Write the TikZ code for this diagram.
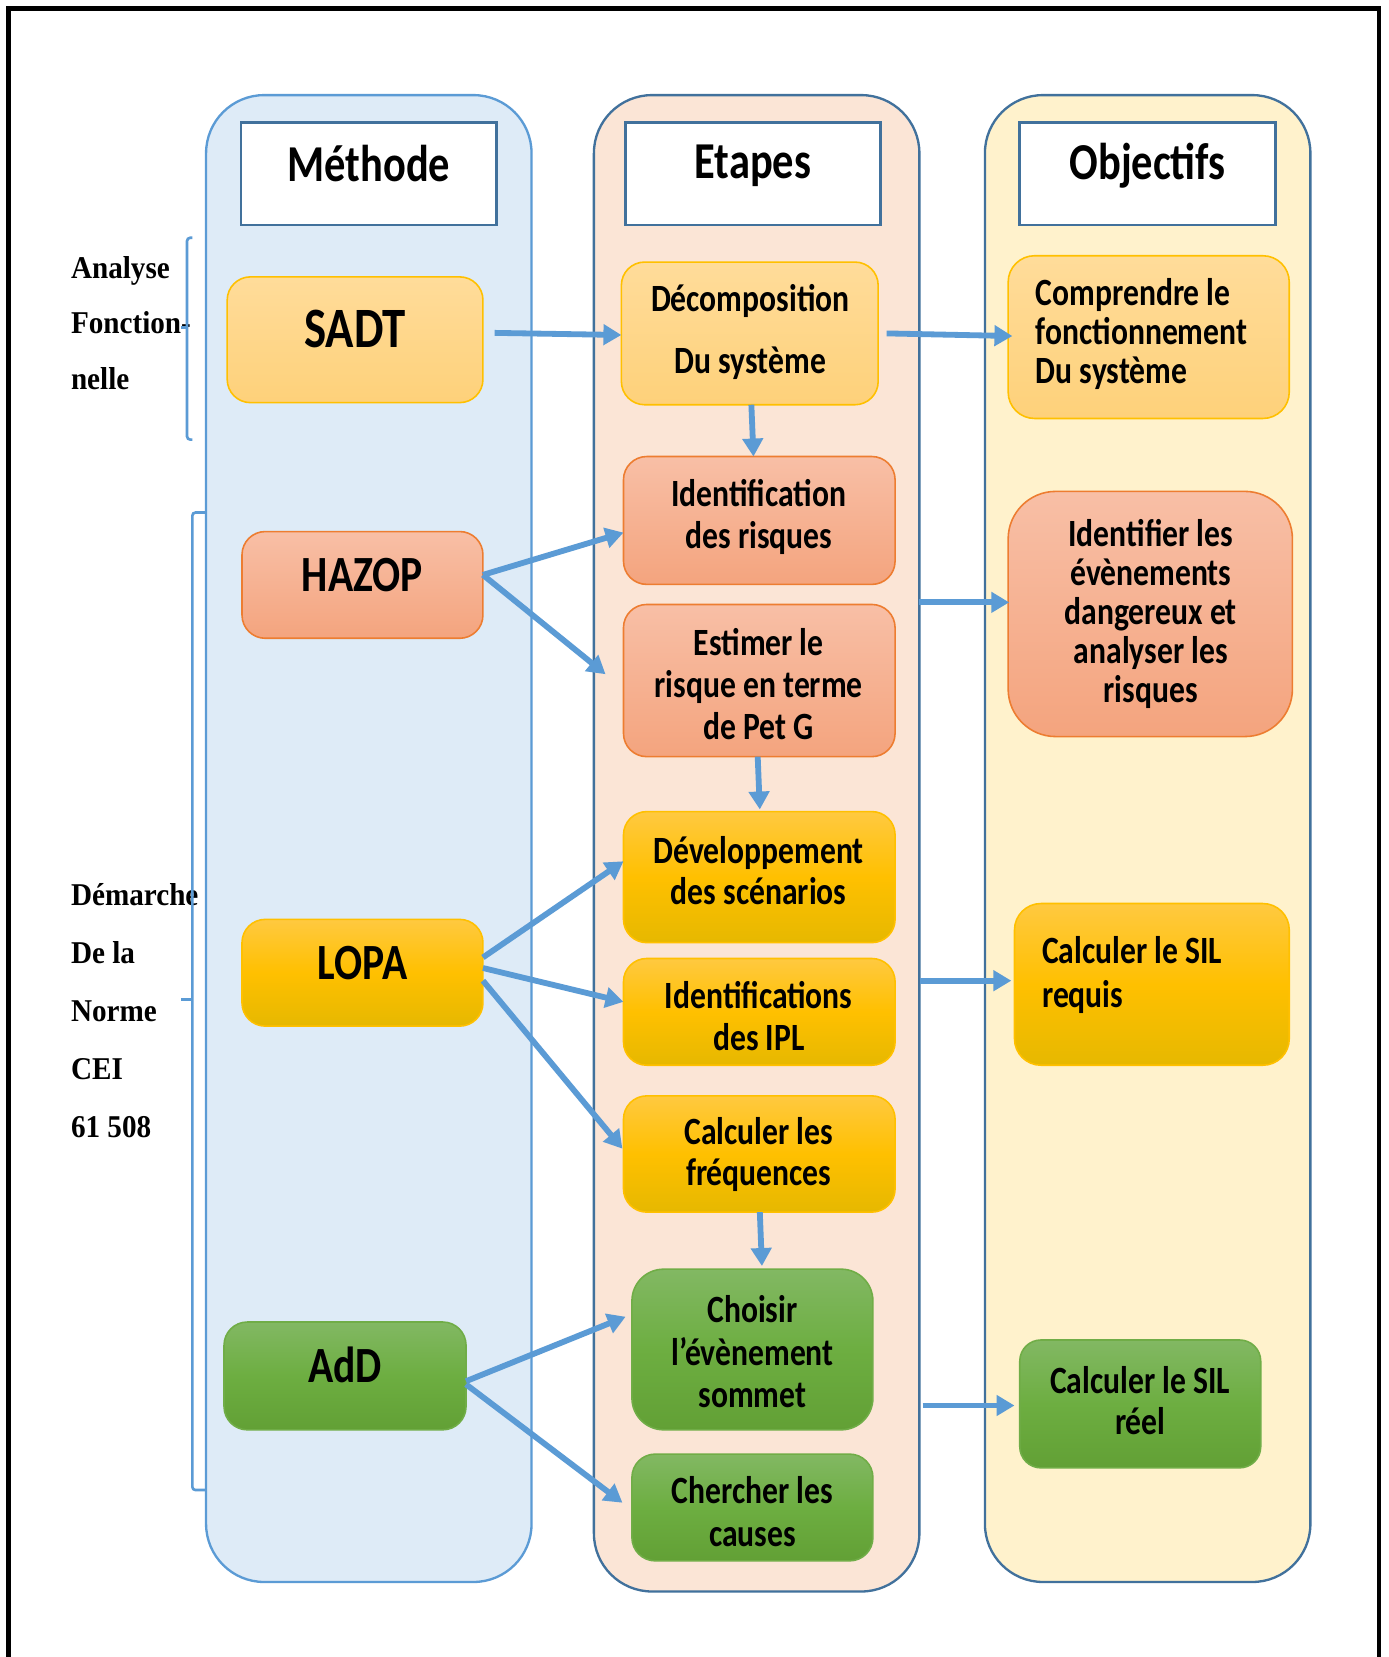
\documentclass[tikz,border=0pt]{standalone}
\usepackage{fontspec}
\usetikzlibrary{arrows.meta,calc}
\newfontfamily\calib{Carlito}[FakeStretch=0.82]
\newfontfamily\tnr{Liberation Serif}[FakeStretch=0.92]
\newcommand\bxfont[1]{\calib\bfseries\fontsize{36.5}{#1}\selectfont}

\definecolor{colblue}{HTML}{DEEBF7}
\definecolor{colblueb}{HTML}{5B9BD5}
\definecolor{colpeach}{HTML}{FBE5D6}
\definecolor{colyellow}{HTML}{FFF2CC}
\definecolor{hdrblue}{HTML}{41719C}
\definecolor{lo1}{HTML}{FFDC9A}
\definecolor{lo2}{HTML}{FED17A}
\definecolor{sal0}{HTML}{ED7D31}
\definecolor{sal1}{HTML}{F8BFA6}
\definecolor{sal2}{HTML}{F4A47E}
\definecolor{go0}{HTML}{FFC000}
\definecolor{go1}{HTML}{FFC940}
\definecolor{go2}{HTML}{FFC000}
\definecolor{go3}{HTML}{E6B800}
\definecolor{gr0}{HTML}{70AD47}
\definecolor{gr1}{HTML}{82B863}
\definecolor{gr2}{HTML}{6DAE41}
\definecolor{gr3}{HTML}{62A035}
\definecolor{arrblue}{HTML}{5B9BD5}

\begin{document}
\begin{tikzpicture}[x=1pt,y=-1pt,
  colbox/.style={rounded corners=55, line width=2.2, inner sep=0, outer sep=0,
                 minimum width=308},
  head/.style={draw=hdrblue, fill=white, line width=2.5, minimum width=242,
               minimum height=97, inner sep=0, outer sep=0},
  box/.style={rounded corners=22, line width=1.5, inner sep=0, outer sep=0},
  bxorange/.style={box, draw=go0, top color=lo1, bottom color=lo2},
  bxsalmon/.style={box, draw=sal0, top color=sal1, bottom color=sal2},
  bxgold/.style={box, draw=go0, top color=go1, bottom color=go3, middle color=go2},
  bxgreen/.style={box, draw=gr0, top color=gr1, bottom color=gr3, middle color=gr2},
  hdtxt/.style={font=\calib\bfseries\fontsize{49}{55}\selectfont, inner sep=0},
  bxtxt/.style={inner sep=0, align=center},
  sidetxt/.style={font=\tnr\bfseries\fontsize{30}{30}\selectfont, inner sep=0,
                  align=left, anchor=west},
  arr/.style={draw=arrblue, line width=5.5, -{Triangle[length=17pt,width=19pt]}},
  brk/.style={draw=arrblue, line width=2.5, rounded corners=3},
]
\useasboundingbox (0,0) rectangle (1314,1568);
\fill[white] (0,0) rectangle (1314,1568);

% outer frame, open at the bottom
\draw[line width=4] (8,1590) -- (8,8) -- (1305,8) -- (1305,1590);

% three columns
\node[colbox, fill=colblue, draw=colblueb, minimum height=1407] (colM) at (349,793.5) {};
\node[colbox, fill=colpeach, draw=hdrblue, minimum height=1416] (colE) at (716,798) {};
\node[colbox, fill=colyellow, draw=hdrblue, minimum height=1407] (colO) at (1086,793.5) {};

% column headers
\node[head] (hM) at (349,164.5) {};
\node[head, minimum width=241] (hE) at (712.5,164.5) {};
\node[head] (hO) at (1086,164.5) {};
\node[hdtxt] (tM) at (349,155) {Méthode};
\node[hdtxt] (tE) at (712.5,157) {Etapes};
\node[hdtxt] (tO) at (1086,157) {Objectifs};

% methods
\node[bxorange, minimum width=242, minimum height=119] (sadt) at (336,321.5) {};
\node[bxsalmon, minimum width=228, minimum height=101] (hazop) at (343,553.5) {};
\node[bxgold, minimum width=228, minimum height=101] (lopa) at (343,920.5) {};
\node[bxgreen, minimum width=229, minimum height=102] (add) at (326.5,1302) {};
\node[hdtxt, font=\calib\bfseries\fontsize{54}{60}\selectfont] (tsadt) at (336,311) {SADT};
\node[hdtxt, font=\calib\bfseries\fontsize{48}{55}\selectfont] (thazop) at (343,544) {HAZOP};
\node[hdtxt, font=\calib\bfseries\fontsize{48}{55}\selectfont] (tlopa) at (343,911) {LOPA};
\node[hdtxt, font=\calib\bfseries\fontsize{48}{55}\selectfont] (tadd) at (326.5,1292) {AdD};

% steps
\node[bxorange, minimum width=243, minimum height=135] (e1) at (709.5,315.5) {};
\node[bxsalmon, minimum width=257, minimum height=121] (e2) at (718.5,492.5) {};
\node[bxsalmon, minimum width=257, minimum height=144] (e3) at (718.5,644) {};
\node[bxgold, minimum width=257, minimum height=124] (e4) at (718.5,830) {};
\node[bxgold, minimum width=257, minimum height=101] (e5) at (718.5,957.5) {};
\node[bxgold, minimum width=257, minimum height=110] (e6) at (718.5,1092) {};
\node[bxgreen, rounded corners=30, minimum width=228, minimum height=152] (e7) at (712,1277) {};
\node[bxgreen, minimum width=228, minimum height=101] (e8) at (712,1426.5) {};
\node[bxtxt, font=\bxfont{58}] (te1) at (710,314) {Décomposition\\Du système};
\node[bxtxt, font=\bxfont{40}] (te2) at (718,489) {Identification\\des risques};
\node[bxtxt, font=\bxfont{39.5}] (te3) at (718,647.5) {Estimer le\\risque en terme\\de Pet G};
\node[bxtxt, font=\bxfont{39}] (te4) at (718,824) {Développement\\des scénarios};
\node[bxtxt, font=\bxfont{39}] (te5) at (718,961.5) {Identifications\\des IPL};
\node[bxtxt, font=\bxfont{39}] (te6) at (718,1092.5) {Calculer les\\fréquences};
\node[bxtxt, font=\bxfont{40}] (te7) at (712,1279) {Choisir\\l’évènement\\sommet};
\node[bxtxt, font=\bxfont{41}] (te8) at (712,1430.5) {Chercher les\\causes};

% objectives
\node[bxorange, rounded corners=25, minimum width=266, minimum height=154] (o1) at (1087,319) {};
\node[bxsalmon, rounded corners=45, minimum width=269, minimum height=232] (o2) at (1088.5,581) {};
\node[bxgold, rounded corners=25, minimum width=260, minimum height=153] (o3) at (1090,931.5) {};
\node[bxgreen, rounded corners=20, minimum width=228, minimum height=121] (o4) at (1079,1328.5) {};
\node[bxtxt, align=left, anchor=west, font=\bxfont{37}] (to1) at (980,316) {Comprendre le\\fonctionnement\\Du système};
\node[bxtxt, font=\bxfont{37}] (to2) at (1089,581) {Identifier les\\évènements\\dangereux et\\analyser les\\risques};
\node[bxtxt, align=left, anchor=west, font=\bxfont{41}] (to3) at (986,922.5) {Calculer le SIL\\requis};
\node[bxtxt, font=\bxfont{39}] (to4) at (1079,1325.5) {Calculer le SIL\\réel};

% side labels and their brackets
\node[sidetxt, font=\tnr\bfseries\fontsize{30}{52.5}\selectfont] (sAF) at (67,305.5) {Analyse\\Fonction-\\nelle};
\node[sidetxt, font=\tnr\bfseries\fontsize{30}{54.75}\selectfont] (sDN) at (67,956.5) {Démarche\\De la\\Norme\\CEI\\61 508};
\draw[brk] (182,225) -- (177,225) -- (177,416) -- (182,416);
\draw[brk] (177,310) -- (171,310);
\draw[brk] (195,485) -- (182,485) -- (182,1410) -- (195,1410);
\draw[brk] (182,946) -- (171,946);

% connectors
\draw[arr] ($(sadt.east)+(11,-6.5)$) -- ($(e1.west)+(0,1.5)$);
\draw[arr] ($(e1.east)+(8,0)$) -- ($(o1.west)+(4,-1)$);
\draw[arr] ($(e1.south)+(1.5,0)$) -- ($(e2.north)+(-5.5,0)$);
\draw[arr] ($(hazop.east)+(0,-9.5)$) -- ($(e2.west)+(0,11.5)$);
\draw[arr] ($(hazop.east)+(0,-9.5)$) -- ($(e3.west)+(-17,-6)$);
\draw[arr] ($(e3.south)+(-1.5,0)$) -- ($(e4.north)+(0.5,-2)$);
\draw[arr] ($(lopa.east)+(0,-14.5)$) -- ($(e4.west)+(0,-15)$);
\draw[arr] ($(lopa.east)+(0,-4.5)$) -- ($(e5.west)+(0,-9.5)$);
\draw[arr] ($(lopa.east)+(0,7.5)$) -- ($(e6.west)+(-1,-5)$);
\draw[arr] ($(e6.south)+(0.5,0)$) -- ($(e7.north)+(9,-3)$);
\draw[arr] ($(add.east)+(0,5)$) -- ($(e7.west)+(-6,-31)$);
\draw[arr] ($(add.east)+(0,8)$) -- ($(e8.west)+(-9,-4.5)$);
\draw[arr] ($(colE.east |- o2.west)+(0,-11)$) -- ($(o2.west)+(1,-11)$);
\draw[arr] ($(colE.east |- o3.west)+(1,-3.5)$) -- ($(o3.west)+(-3,-3.5)$);
\draw[arr] ($(colE.east |- o4.west)+(3,1.5)$) -- ($(o4.west)+(-5,1.5)$);
\end{tikzpicture}
\end{document}
